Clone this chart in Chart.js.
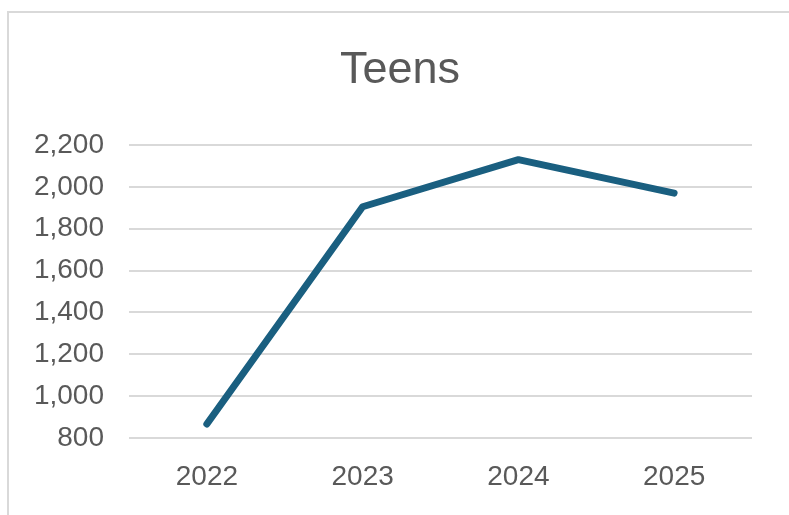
<!DOCTYPE html>
<html>
<head>
<meta charset="utf-8">
<script src="https://cdn.jsdelivr.net/npm/chart.js@4"></script>
<style>
  html, body { margin: 0; padding: 0; background: #fff; }
  #wrap { width: 789px; height: 515px; }
</style>
</head>
<body>
<div id="wrap"><canvas id="teens-chart" width="789" height="515"></canvas></div>
<script>
// Chart data
const years = ['2022', '2023', '2024', '2025'];
const teens = [867, 1905, 2130, 1970];
const yTicks = [800, 1000, 1200, 1400, 1600, 1800, 2000, 2200];

const textColor = '#595959';
const gridColor = '#d9d9d9';

// White background + light outer frame like the spreadsheet chart box
const frame = {
    id: 'frame',
    beforeDraw(chart) {
        const ctx = chart.ctx;
        ctx.save();
        ctx.fillStyle = '#fff';
        ctx.fillRect(0, 0, chart.width, chart.height);
        ctx.strokeStyle = '#d9d9d9';
        ctx.lineWidth = 2;
        ctx.strokeRect(8, 12, chart.width + 20, chart.height + 20);
        ctx.restore();
    }
};

const ctx = document.getElementById('teens-chart').getContext('2d');

const teensChart = new Chart(ctx, {
    type: 'line',
    data: {
        labels: years,
        datasets: [{
            label: 'Teens',
            data: teens,
            borderColor: '#1a5f80',
            borderWidth: 7,
            borderCapStyle: 'round',
            borderJoinStyle: 'round',
            pointRadius: 0,
            tension: 0,
            fill: false
        }]
    },
    options: {
        responsive: false,
        animation: false,
        layout: {
            padding: { left: 11, right: 0, top: 0, bottom: 0 }
        },
        plugins: {
            legend: { display: false },
            tooltip: { enabled: false },
            title: {
                display: true,
                text: 'Teens',
                color: textColor,
                font: { family: '"Liberation Sans", Arial, sans-serif', size: 45, weight: 'normal' },
                padding: { top: 44, bottom: 47 }
            }
        },
        scales: {
            x: {
                offset: true,
                grid: { display: false, drawTicks: false },
                border: { display: false },
                ticks: {
                    color: textColor,
                    padding: 22,
                    font: { family: '"Liberation Sans", Arial, sans-serif', size: 28 }
                },
                afterFit: (scale) => { scale.height = 77; }
            },
            y: {
                min: 800,
                max: 2200,
                afterBuildTicks: (scale) => { scale.ticks = yTicks.map(v => ({ value: v })); },
                grid: { color: gridColor, lineWidth: 2, drawTicks: false },
                border: { display: false },
                ticks: {
                    color: textColor,
                    padding: 25,
                    font: { family: '"Liberation Sans", Arial, sans-serif', size: 28 },
                    callback: (v) => v.toLocaleString('en-US')
                },
                afterFit: (scale) => { scale.width = 118; }
            },
            // empty right-hand spacer so the plot ends where the reference's does
            spacer: {
                type: 'linear',
                position: 'right',
                display: true,
                grid: { display: false, drawTicks: false },
                border: { display: false },
                ticks: { display: false },
                afterFit: (scale) => { scale.width = 37; }
            }
        }
    },
    plugins: [frame]
});
</script>
</body>
</html>
